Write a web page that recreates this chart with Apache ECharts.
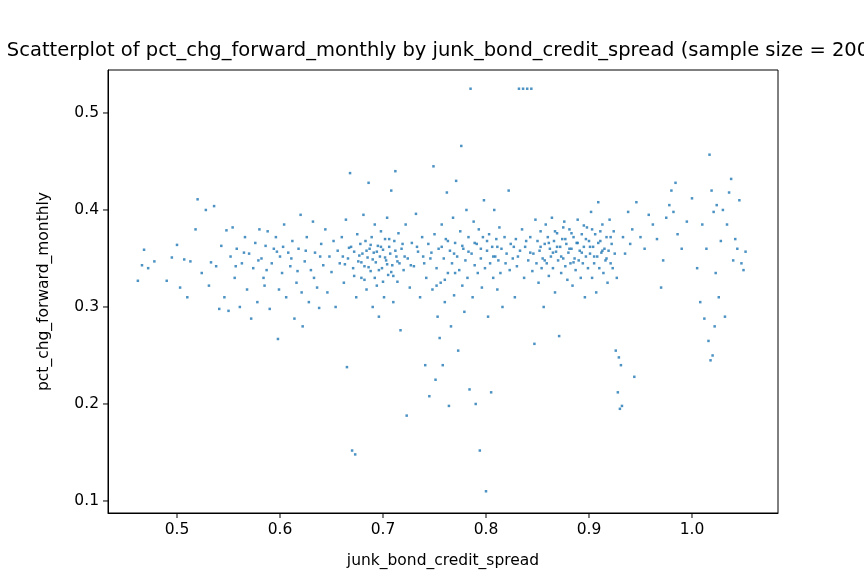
<!DOCTYPE html>
<html>
<head>
<meta charset="utf-8">
<script src="https://cdn.jsdelivr.net/npm/echarts@6/dist/echarts.min.js"></script>
<style>html,body{margin:0;padding:0;background:#fff}#chart{width:864px;height:576px}</style>
</head>
<body>
<div id="chart"></div>
<script>
// points, grouped by spread range [spread, pct_chg]
var lowSpread = [
  [0.462,0.327],[0.466,0.343],[0.468,0.359],[0.472,0.340],[0.478,0.347],[0.490,0.327],[0.495,0.351],
  [0.500,0.364],[0.503,0.320],[0.507,0.349],[0.510,0.310],[0.513,0.347],[0.518,0.380],[0.520,0.411],
  [0.524,0.335],[0.528,0.400],[0.531,0.322],[0.533,0.346],[0.536,0.404],[0.538,0.342],[0.541,0.298],
  [0.543,0.363],[0.546,0.310],[0.548,0.379],[0.550,0.296],[0.552,0.352],[0.554,0.382],[0.556,0.330],
  [0.558,0.360],[0.561,0.300],[0.563,0.345],[0.566,0.372],[0.568,0.318],[0.570,0.355],[0.572,0.288],
  [0.574,0.340],[0.576,0.366],[0.578,0.305],[0.580,0.380],[0.582,0.350],[0.584,0.330],[0.586,0.363],
  [0.588,0.378],[0.590,0.298],[0.592,0.345],[0.594,0.360],[0.596,0.372],[0.598,0.267],[0.600,0.352],
  [0.602,0.335],[0.604,0.385],[0.606,0.310],[0.608,0.356],[0.610,0.342],[0.612,0.368],[0.614,0.288],
  [0.616,0.325],[0.618,0.360],[0.620,0.395],[0.622,0.280],[0.624,0.347],[0.626,0.372],[0.628,0.305],
  [0.630,0.338],[0.632,0.388],[0.634,0.356],[0.636,0.320],[0.638,0.299],[0.640,0.365],[0.642,0.343],
  [0.557,0.342],[0.565,0.356],[0.579,0.348],[0.587,0.338],[0.597,0.357],[0.603,0.362],[0.611,0.350],
  [0.617,0.337],[0.625,0.358],[0.633,0.330],[0.639,0.352],[0.585,0.322],[0.599,0.318],[0.621,0.315]
];
var midSpread = [
  [0.644,0.380],[0.646,0.315],[0.648,0.352],[0.650,0.336],[0.652,0.368],[0.654,0.300],[0.656,0.358],
  [0.658,0.345],[0.660,0.372],[0.662,0.325],[0.664,0.390],[0.665,0.238],[0.666,0.350],[0.668,0.438],
  [0.669,0.362],[0.670,0.152],[0.671,0.340],[0.672,0.357],[0.673,0.148],[0.674,0.310],[0.675,0.375],
  [0.676,0.347],[0.678,0.365],[0.679,0.330],[0.680,0.355],[0.681,0.395],[0.682,0.342],[0.683,0.368],
  [0.684,0.318],[0.685,0.351],[0.686,0.428],[0.687,0.360],[0.688,0.337],[0.689,0.372],[0.690,0.300],
  [0.691,0.356],[0.692,0.385],[0.693,0.346],[0.694,0.322],[0.695,0.363],[0.696,0.290],[0.697,0.352],
  [0.698,0.378],[0.699,0.340],[0.700,0.359],[0.701,0.310],[0.702,0.370],[0.703,0.348],[0.704,0.392],
  [0.705,0.333],[0.706,0.362],[0.707,0.355],[0.708,0.420],[0.709,0.343],[0.710,0.305],[0.711,0.368],
  [0.712,0.440],[0.713,0.352],[0.714,0.326],[0.715,0.376],[0.716,0.345],[0.717,0.276],[0.718,0.360],
  [0.720,0.338],[0.722,0.385],[0.723,0.188],[0.724,0.350],[0.726,0.320],[0.728,0.366],[0.730,0.342],
  [0.732,0.396],[0.734,0.357],[0.736,0.310],[0.738,0.372],[0.740,0.345],[0.741,0.240],[0.742,0.330],
  [0.744,0.365],[0.745,0.208],[0.746,0.350],[0.748,0.318],[0.749,0.445],[0.750,0.375],[0.751,0.225],
  [0.752,0.340],[0.753,0.290],[0.754,0.360],[0.755,0.268],[0.756,0.325],[0.757,0.385],[0.758,0.240],
  [0.759,0.350],[0.760,0.305],[0.761,0.370],[0.762,0.418],[0.763,0.335],[0.764,0.198],[0.765,0.358],
  [0.766,0.280],[0.767,0.345],[0.768,0.392],[0.769,0.312],[0.770,0.366],[0.771,0.430],[0.772,0.352],
  [0.773,0.255],[0.774,0.338],[0.775,0.378],[0.776,0.466],[0.777,0.322],[0.778,0.360],[0.779,0.295],
  [0.780,0.348],[0.781,0.400],[0.782,0.330],[0.783,0.372],[0.784,0.215],[0.785,0.525],[0.786,0.355],
  [0.787,0.310],[0.788,0.388],[0.789,0.343],[0.790,0.200],[0.791,0.365],[0.792,0.335],[0.793,0.380],
  [0.794,0.152],[0.795,0.350],[0.796,0.320],[0.797,0.372],[0.798,0.410],[0.799,0.340],[0.800,0.110],
  [0.801,0.358],[0.802,0.290],[0.803,0.375],[0.804,0.345],[0.805,0.212],[0.806,0.362],[0.807,0.330],
  [0.808,0.400],[0.809,0.352],[0.810,0.370],[0.811,0.318],[0.812,0.348],[0.813,0.382],[0.814,0.335],
  [0.661,0.352],[0.663,0.344],[0.667,0.361],[0.677,0.353],[0.679,0.346],[0.684,0.358],[0.686,0.341],
  [0.688,0.364],[0.690,0.349],[0.694,0.357],[0.696,0.338],[0.698,0.362],[0.702,0.351],[0.704,0.344],
  [0.706,0.370],[0.708,0.336],[0.712,0.358],[0.714,0.347],[0.719,0.365],[0.721,0.352],[0.727,0.343],
  [0.733,0.362],[0.739,0.352],[0.747,0.356],[0.757,0.362],[0.763,0.368],[0.769,0.355],[0.777,0.363],
  [0.783,0.357],[0.789,0.366],[0.795,0.360],[0.801,0.368],[0.807,0.352],[0.811,0.362],[0.672,0.332],
  [0.682,0.328],[0.692,0.330],[0.700,0.326],[0.710,0.332],[0.752,0.322],[0.760,0.328],[0.770,0.335]
];
var highSpread = [
  [0.815,0.360],[0.816,0.300],[0.818,0.372],[0.819,0.345],[0.820,0.355],[0.822,0.420],[0.823,0.338],
  [0.824,0.365],[0.826,0.350],[0.828,0.310],[0.829,0.370],[0.830,0.342],[0.832,0.525],[0.833,0.358],
  [0.835,0.380],[0.836,0.525],[0.837,0.330],[0.838,0.362],[0.840,0.525],[0.841,0.348],[0.843,0.372],
  [0.844,0.525],[0.845,0.337],[0.846,0.355],[0.847,0.262],[0.848,0.390],[0.849,0.345],[0.850,0.368],
  [0.851,0.325],[0.852,0.358],[0.853,0.378],[0.854,0.340],[0.855,0.350],[0.856,0.300],[0.857,0.365],
  [0.858,0.385],[0.859,0.345],[0.860,0.372],[0.861,0.332],[0.862,0.360],[0.863,0.352],[0.864,0.392],
  [0.865,0.340],[0.866,0.368],[0.867,0.315],[0.868,0.357],[0.869,0.376],[0.870,0.348],[0.871,0.270],
  [0.872,0.362],[0.873,0.335],[0.874,0.370],[0.875,0.350],[0.876,0.388],[0.877,0.342],[0.878,0.365],
  [0.879,0.328],[0.880,0.356],[0.881,0.380],[0.882,0.345],[0.883,0.360],[0.884,0.322],[0.885,0.372],
  [0.886,0.350],[0.887,0.338],[0.888,0.366],[0.889,0.390],[0.890,0.348],[0.891,0.358],[0.892,0.330],
  [0.893,0.375],[0.894,0.345],[0.895,0.362],[0.896,0.310],[0.897,0.352],[0.898,0.382],[0.899,0.340],
  [0.900,0.368],[0.901,0.355],[0.902,0.398],[0.903,0.330],[0.904,0.362],[0.905,0.345],[0.906,0.375],
  [0.907,0.315],[0.908,0.352],[0.909,0.408],[0.910,0.340],[0.911,0.368],[0.912,0.356],[0.913,0.385],
  [0.914,0.335],[0.915,0.360],[0.916,0.348],[0.917,0.372],[0.918,0.325],[0.919,0.358],[0.920,0.390],
  [0.921,0.345],[0.922,0.365],[0.923,0.340],[0.924,0.378],[0.925,0.355],[0.926,0.255],[0.927,0.330],
  [0.928,0.212],[0.929,0.248],[0.930,0.195],[0.931,0.240],[0.932,0.198],[0.933,0.372],[0.935,0.355],
  [0.938,0.398],[0.940,0.365],[0.942,0.380],[0.944,0.228],[0.946,0.408],[0.950,0.372],[0.954,0.360],
  [0.958,0.395],[0.962,0.385],[0.966,0.370],[0.970,0.320],[0.972,0.348],[0.975,0.392],[0.978,0.405],
  [0.980,0.420],[0.982,0.398],[0.984,0.428],[0.986,0.375],[0.990,0.360],[0.995,0.388],[1.000,0.412],
  [1.005,0.340],[1.008,0.305],[1.010,0.385],[1.012,0.288],[1.014,0.360],[1.016,0.265],[1.017,0.457],
  [1.018,0.245],[1.019,0.420],[1.020,0.250],[1.021,0.398],[1.022,0.280],[1.023,0.335],[1.024,0.405],
  [1.026,0.310],[1.028,0.368],[1.030,0.400],[1.032,0.290],[1.034,0.385],[1.036,0.418],[1.038,0.432],
  [1.040,0.348],[1.042,0.370],[1.044,0.360],[1.046,0.410],[1.048,0.345],[1.050,0.338],[1.052,0.357],
  [0.853,0.362],[0.857,0.348],[0.861,0.366],[0.865,0.356],[0.869,0.362],[0.873,0.352],[0.877,0.370],
  [0.881,0.360],[0.885,0.346],[0.889,0.366],[0.893,0.356],[0.897,0.370],[0.901,0.362],[0.905,0.352],
  [0.909,0.366],[0.913,0.358],[0.917,0.350],[0.921,0.372],[0.827,0.362],[0.831,0.352],[0.839,0.368],
  [0.843,0.356],[0.867,0.378],[0.875,0.382],[0.883,0.376],[0.895,0.384],[0.903,0.380],[0.911,0.378]
];
var xTicks = [0.5, 0.6, 0.7, 0.8, 0.9, 1.0];
var yTicks = [0.1, 0.2, 0.3, 0.4, 0.5];

var chart = echarts.init(document.getElementById('chart'));
var font = 'DejaVu Sans';
chart.setOption({
    animation: false,
    title: {
        text: 'Scatterplot of pct_chg_forward_monthly by junk_bond_credit_spread (sample size = 2000)',
        left: 443, top: 36, textAlign: 'center',
        textStyle: {fontFamily: font, fontSize: 19.5, fontWeight: 'normal', color: '#000'}
    },
    grid: {left: 108, right: 86, top: 70, bottom: 63},
    xAxis: {
        type: 'value', min: 0.433, max: 1.0835,
        name: 'junk_bond_credit_spread', nameLocation: 'middle', nameGap: 40,
        nameTextStyle: {fontFamily: font, fontSize: 15.5, color: '#000'},
        axisLine: {lineStyle: {color: '#000'}},
        axisTick: {show: false},
        axisLabel: {show: false},
        splitLine: {show: false}
    },
    yAxis: {
        type: 'value', min: 0.0876, max: 0.5443,
        name: 'pct_chg_forward_monthly', nameLocation: 'middle', nameGap: 56,
        nameTextStyle: {fontFamily: font, fontSize: 15.5, color: '#000'},
        axisLine: {show: true, lineStyle: {color: '#000'}},
        axisTick: {show: false},
        axisLabel: {show: false},
        splitLine: {show: false}
    },
    series: [{
        type: 'scatter', symbol: 'rect', symbolSize: 2.5,
        itemStyle: {color: '#1f77b4'},
        data: lowSpread.concat(midSpread, highSpread)
    }]
});

// ticks and labels placed through the axis conversion
var g = [];
var b = chart.convertToPixel({gridIndex: 0}, [0.433, 0.0876]);
xTicks.forEach(function (v) {
    var p = chart.convertToPixel({gridIndex: 0}, [v, 0.0876]);
    g.push({type: 'line', shape: {x1: p[0], y1: b[1], x2: p[0], y2: b[1] + 5}, style: {stroke: '#000'}});
    g.push({type: 'text', x: p[0], y: b[1] + 9, style: {text: v.toFixed(1), fill: '#000', font: '15.5px DejaVu Sans', textAlign: 'center'}});
});
yTicks.forEach(function (v) {
    var p = chart.convertToPixel({gridIndex: 0}, [0.433, v]);
    g.push({type: 'line', shape: {x1: b[0] - 5, y1: p[1], x2: b[0], y2: p[1]}, style: {stroke: '#000'}});
    g.push({type: 'text', x: b[0] - 9, y: p[1], style: {text: v.toFixed(1), fill: '#000', font: '15.5px DejaVu Sans', textAlign: 'right', textVerticalAlign: 'middle'}});
});
g.push({type: 'rect', shape: {x: 108, y: 70, width: 670, height: 443}, style: {fill: 'none', stroke: '#000'}});
chart.setOption({graphic: g});
</script>
</body>
</html>
